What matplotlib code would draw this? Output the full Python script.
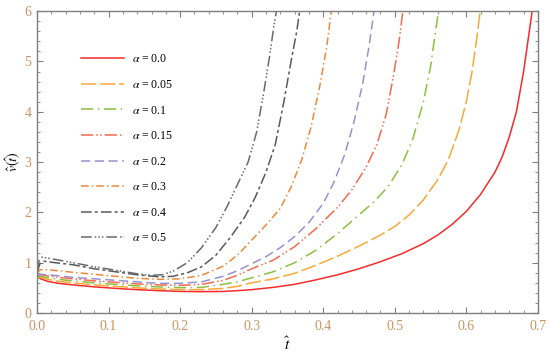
import matplotlib
matplotlib.use("Agg")
import matplotlib.pyplot as plt
from matplotlib.ticker import MultipleLocator, FormatStrFormatter

plt.rcParams['font.family'] = ['Liberation Serif', 'DejaVu Serif']
plt.rcParams['mathtext.fontset'] = 'stix'

# data (t, v) for each alpha
t_00 = [0, 0.005, 0.015, 0.03, 0.05, 0.08, 0.11, 0.14, 0.17, 0.2, 0.23, 0.26, 0.28, 0.3, 0.33, 0.36, 0.39,
        0.42, 0.45, 0.48, 0.51, 0.54, 0.56, 0.58, 0.6, 0.62, 0.64, 0.65, 0.66, 0.67, 0.68, 0.688, 0.695]
v_00 = [0.73, 0.68, 0.63, 0.59, 0.56, 0.52, 0.49, 0.465, 0.445, 0.43, 0.425, 0.43, 0.445, 0.465, 0.51, 0.57, 0.66,
        0.76, 0.88, 1.02, 1.18, 1.38, 1.55, 1.76, 2.02, 2.36, 2.8, 3.1, 3.5, 4.0, 4.8, 5.6, 6.3]

t_005 = [0, 0.005, 0.015, 0.03, 0.05, 0.08, 0.11, 0.14, 0.17, 0.2, 0.23, 0.26, 0.28, 0.3, 0.33, 0.36, 0.39,
         0.42, 0.45, 0.48, 0.5, 0.52, 0.54, 0.56, 0.575, 0.59, 0.6, 0.608, 0.615, 0.621]
v_005 = [0.72, 0.71, 0.67, 0.63, 0.6, 0.56, 0.53, 0.5, 0.48, 0.465, 0.465, 0.49, 0.53, 0.6, 0.68, 0.79, 0.95,
         1.13, 1.33, 1.55, 1.72, 1.95, 2.25, 2.65, 3.05, 3.65, 4.2, 4.8, 5.5, 6.2]

t_01 = [0, 0.005, 0.015, 0.03, 0.05, 0.08, 0.11, 0.14, 0.17, 0.2, 0.23, 0.26, 0.28, 0.3, 0.33, 0.36, 0.39,
        0.42, 0.45, 0.47, 0.49, 0.51, 0.525, 0.54, 0.55, 0.557, 0.563]
v_01 = [0.72, 0.73, 0.7, 0.67, 0.64, 0.6, 0.57, 0.54, 0.52, 0.505, 0.51, 0.57, 0.62, 0.7, 0.82, 1.0, 1.25,
        1.58, 1.95, 2.2, 2.5, 2.95, 3.45, 4.2, 4.9, 5.6, 6.2]

t_015 = [0, 0.005, 0.015, 0.03, 0.05, 0.08, 0.11, 0.14, 0.17, 0.2, 0.23, 0.26, 0.28, 0.3, 0.33, 0.36, 0.39,
         0.42, 0.44, 0.46, 0.475, 0.488, 0.498, 0.506, 0.513]
v_015 = [0.74, 0.76, 0.74, 0.71, 0.68, 0.64, 0.61, 0.58, 0.56, 0.55, 0.57, 0.65, 0.75, 0.88, 1.05, 1.32, 1.68,
         2.1, 2.45, 2.9, 3.35, 3.95, 4.7, 5.4, 6.2]

t_02 = [0, 0.005, 0.015, 0.03, 0.05, 0.08, 0.11, 0.14, 0.17, 0.2, 0.23, 0.26, 0.28, 0.3, 0.32, 0.34, 0.36,
        0.38, 0.4, 0.415, 0.43, 0.443, 0.455, 0.464, 0.473]
v_02 = [0.74, 0.77, 0.76, 0.74, 0.71, 0.68, 0.65, 0.62, 0.59, 0.59, 0.62, 0.73, 0.84, 0.98, 1.12, 1.3, 1.52,
        1.8, 2.18, 2.6, 3.15, 3.8, 4.55, 5.3, 6.2]

t_03 = [0, 0.004, 0.015, 0.03, 0.05, 0.08, 0.11, 0.14, 0.17, 0.2, 0.23, 0.26, 0.28, 0.3, 0.32, 0.34,
        0.355, 0.37, 0.383, 0.395, 0.405, 0.413]
v_03 = [0.78, 0.86, 0.86, 0.84, 0.81, 0.77, 0.73, 0.69, 0.67, 0.68, 0.75, 0.93, 1.15, 1.45, 1.75, 2.08,
        2.5, 3.05, 3.7, 4.5, 5.3, 6.2]

t_04 = [0, 0.004, 0.01, 0.02, 0.05, 0.08, 0.11, 0.14, 0.17, 0.19, 0.21, 0.23, 0.25, 0.27, 0.29, 0.305,
        0.32, 0.333, 0.345, 0.355, 0.363, 0.369]
v_04 = [0.8, 0.98, 1.03, 1.01, 0.96, 0.88, 0.82, 0.76, 0.72, 0.73, 0.8, 0.92, 1.15, 1.5, 1.9, 2.3,
        2.8, 3.35, 4.2, 5.0, 5.6, 6.2]

t_05 = [0, 0.003, 0.007, 0.02, 0.05, 0.08, 0.11, 0.14, 0.16, 0.175, 0.19, 0.21, 0.23, 0.25, 0.265, 0.28,
        0.295, 0.307, 0.317, 0.325, 0.331, 0.337]
v_05 = [0.85, 1.05, 1.11, 1.08, 1.0, 0.92, 0.85, 0.78, 0.75, 0.76, 0.83, 1.0, 1.3, 1.7, 2.1, 2.55,
        3.0, 3.6, 4.4, 5.1, 5.7, 6.2]

labels = ['0.0', '0.05', '0.1', '0.15', '0.2', '0.3', '0.4', '0.5']
colors = ['#f22c2c', '#f9a93a', '#8cbf3f', '#f46a4e', '#9b90cf', '#ec8a3c', '#5a5a5a', '#6a6a6a']
dashes = [None, (10, 2.5), (8, 3, 1, 3), (8, 2, 1, 1.5, 1, 2), (6, 3), (5, 2, 1, 2),
          (7, 2, 2, 2), (7, 2, 1, 1.3, 1, 1.3, 1, 2)]
series = [(t_00, v_00), (t_005, v_005), (t_01, v_01), (t_015, v_015),
          (t_02, v_02), (t_03, v_03), (t_04, v_04), (t_05, v_05)]

fig = plt.figure(figsize=(5.5, 3.59), dpi=100)
ax = fig.add_axes([0.0673, 0.128, 0.9107, 0.841])

for (t, v), lab, c, d in zip(series, labels, colors, dashes):
    line, = ax.plot(t, v, color=c, lw=1.1, label=r'$\alpha$ = ' + lab)
    if d is not None:
        line.set_dashes(d)

ax.set_xlim(0, 0.7)
ax.set_ylim(0, 6)
ax.xaxis.set_major_locator(MultipleLocator(0.1))
ax.xaxis.set_minor_locator(MultipleLocator(0.02))
ax.yaxis.set_major_locator(MultipleLocator(1))
ax.yaxis.set_minor_locator(MultipleLocator(0.2))
ax.xaxis.set_major_formatter(FormatStrFormatter('%.1f'))

frame = '#7f7f7f'
for s in ax.spines.values():
    s.set_color(frame)
    s.set_linewidth(1.0)
ax.tick_params(which='both', direction='in', top=True, right=True, color=frame,
               labelcolor='#c99463', labelsize=10)
ax.tick_params(axis='x', pad=5)
ax.tick_params(axis='y', pad=4)
ax.tick_params(which='major', length=4, width=0.8)
ax.tick_params(which='minor', length=2.2, width=0.6)

ax.set_xlabel(r'$\hat{t}$', fontsize=11, labelpad=2)
ax.set_ylabel(r'$\hat{v}(\hat{t})$', fontsize=10, labelpad=2)

ax.legend(loc='upper left', bbox_to_anchor=(0.088, 0.86), frameon=False,
          fontsize=8.5, handlelength=3.6, handletextpad=0.7, labelspacing=1.15,
          borderpad=0, borderaxespad=0)

fig.savefig('out.png', dpi=100)
